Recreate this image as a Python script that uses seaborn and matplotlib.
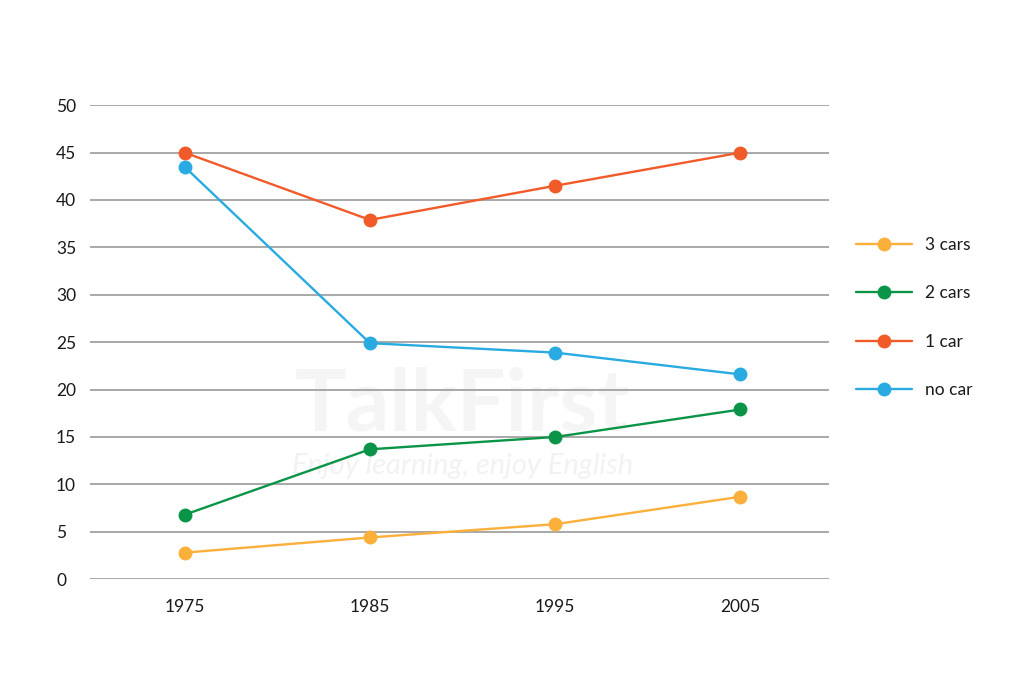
import matplotlib
matplotlib.use("Agg")
import matplotlib.pyplot as plt
import seaborn as sns
import pandas as pd

# values
years = ["1975", "1985", "1995", "2005"]
three_cars = [2.8, 4.4, 5.8, 8.7]
two_cars = [6.8, 13.7, 15.0, 17.9]
one_car = [45.0, 37.9, 41.5, 45.0]
no_car = [43.5, 24.9, 23.9, 21.6]

series_names = ["3 cars", "2 cars", "1 car", "no car"]
colors = {"3 cars": "#FBB03B", "2 cars": "#0A9447",
          "1 car": "#F15A29", "no car": "#29ABE2"}

rows = []
for name, vals in zip(series_names, [three_cars, two_cars, one_car, no_car]):
    for yr, v in zip(years, vals):
        rows.append({"year": yr, "value": v, "series": name})
df = pd.DataFrame(rows)

sns.set_style("white")
plt.rcParams["font.family"] = ["Lato", "DejaVu Sans"]

fig = plt.figure(figsize=(10.24, 6.83), dpi=100)
ax = fig.add_axes([0.088, 0.152, 0.722, 0.694])
ax.set_zorder(2)
ax.patch.set_alpha(0)

# faint watermark, kept behind the axes
fig.text(0.452, 0.405, "TalkFirst", fontsize=62, fontweight="bold",
         color="#f5f5f5", ha="center", va="center", zorder=0)
fig.text(0.452, 0.318, "Enjoy learning, enjoy English", fontsize=21,
         fontstyle="italic", color="#f2f2f2", ha="center", va="center", zorder=0)

for y in range(0, 51, 5):
    ax.axhline(y, color="#9a9a9a", lw=1.2, zorder=1)

sns.lineplot(data=df, x="year", y="value", hue="series", hue_order=series_names,
             palette=colors, marker="o", markersize=10, markeredgewidth=0,
             linewidth=1.7, sort=False, ax=ax, zorder=3)

ax.set_xlim(-0.51, 3.48)
ax.set_ylim(0, 50)
ax.set_yticks(range(0, 51, 5))
ax.set_xlabel("")
ax.set_ylabel("")
sns.despine(ax=ax, left=True, bottom=True)
ax.tick_params(axis="both", length=0, labelsize=12.5, colors="#1a1a1a")
ax.tick_params(axis="y", pad=24.5)
for lab in ax.get_yticklabels():
    lab.set_horizontalalignment("left")
ax.tick_params(axis="x", pad=14)

handles, labels = ax.get_legend_handles_labels()
leg = ax.legend(handles, labels, loc="center left", bbox_to_anchor=(1.015, 0.552),
                frameon=False, fontsize=12.5, labelspacing=1.85, handlelength=3.2,
                handletextpad=0.75)
for t in leg.get_texts():
    t.set_color("#1a1a1a")

fig.savefig("out.png", dpi=100)
